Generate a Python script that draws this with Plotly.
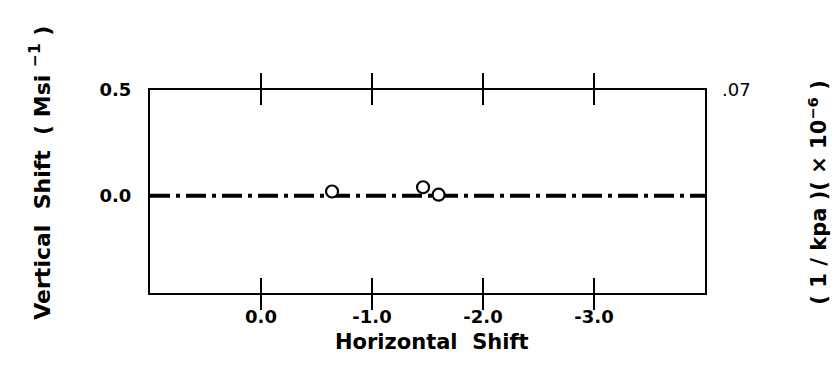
import plotly.graph_objects as go

# Data
horizontal_shift = [-0.64, -1.46, -1.60]
vertical_shift = [0.02, 0.04, 0.005]

ref_line_x = [1.0, -4.0]
ref_line_y = [0.0, 0.0]

x_tickvals = [0.0, -1.0, -2.0, -3.0]
x_ticktext = ["0.0", "-1.0", "-2.0", "-3.0"]
y_tickvals = [0.0, 0.5]
y_ticktext = ["0.0", "0.5"]
y2_tickvals = [0.5]
y2_ticktext = [".07"]

FONT = "DejaVu Sans"
NB = "\u00a0"

fig = go.Figure()
fig.add_trace(go.Scatter(
    x=ref_line_x, y=ref_line_y, mode="lines",
    line=dict(color="black", width=4, dash="20px,6px,4px,6px"),
    showlegend=False, hoverinfo="skip"))
fig.add_trace(go.Scatter(
    x=horizontal_shift, y=vertical_shift, mode="markers",
    marker=dict(symbol="circle", size=12, color="white",
                line=dict(color="black", width=2.2)),
    showlegend=False))
# invisible trace to activate the right axis
fig.add_trace(go.Scatter(x=ref_line_x, y=ref_line_y, yaxis="y2",
                         mode="lines", line=dict(width=0),
                         showlegend=False, hoverinfo="skip"))

fig.update_layout(
    width=839, height=390,
    margin=dict(l=150, r=134, t=90, b=97),
    paper_bgcolor="white", plot_bgcolor="white",
    font=dict(family=FONT, size=18, color="black", weight="bold"),
    xaxis=dict(range=[1.0, -4.0], tickvals=x_tickvals, ticktext=x_ticktext,
               ticks="inside", ticklen=15, tickwidth=2, tickcolor="black",
               showline=True, linecolor="black", linewidth=2, mirror="allticks",
               showgrid=False, zeroline=False, ticklabelstandoff=6,
               tickfont=dict(size=18, weight="bold")),
    yaxis=dict(range=[-0.46, 0.5], tickvals=y_tickvals, ticktext=y_ticktext,
               ticks="", showline=True, linecolor="black", linewidth=2,
               mirror=True, showgrid=False, zeroline=False,
               ticklabelstandoff=13, tickfont=dict(size=18, weight="bold")),
    yaxis2=dict(range=[-0.46, 0.5], overlaying="y", side="right",
                tickvals=y2_tickvals, ticktext=y2_ticktext, ticks="",
                showline=False, showgrid=False, zeroline=False,
                ticklabelstandoff=16, tickfont=dict(size=18, weight="normal")),
    annotations=[
        dict(text=f"Horizontal{NB}{NB}Shift", xref="paper", yref="paper",
             x=0.508, y=-0.24, showarrow=False,
             font=dict(size=21, weight="bold"),
             xanchor="center", yanchor="middle"),
        dict(text=f"Vertical{NB}{NB}Shift{NB}{NB}({NB}Msi{NB}<sup>−1</sup>{NB})",
             xref="paper", yref="paper",
             x=-0.198, y=0.593, textangle=-90, showarrow=False,
             font=dict(size=22, weight="bold"), xanchor="center", yanchor="middle"),
        dict(text=f"({NB}1{NB}/{NB}kpa{NB})({NB}×{NB}10<sup>−6</sup>{NB})",
             xref="paper", yref="paper",
             x=1.202, y=0.495, textangle=-90, showarrow=False,
             font=dict(size=21, weight="bold"), xanchor="center", yanchor="middle"),
    ],
)

fig.write_html("out.html", config={"displayModeBar": False},
               post_script="document.body.style.margin='0';")
